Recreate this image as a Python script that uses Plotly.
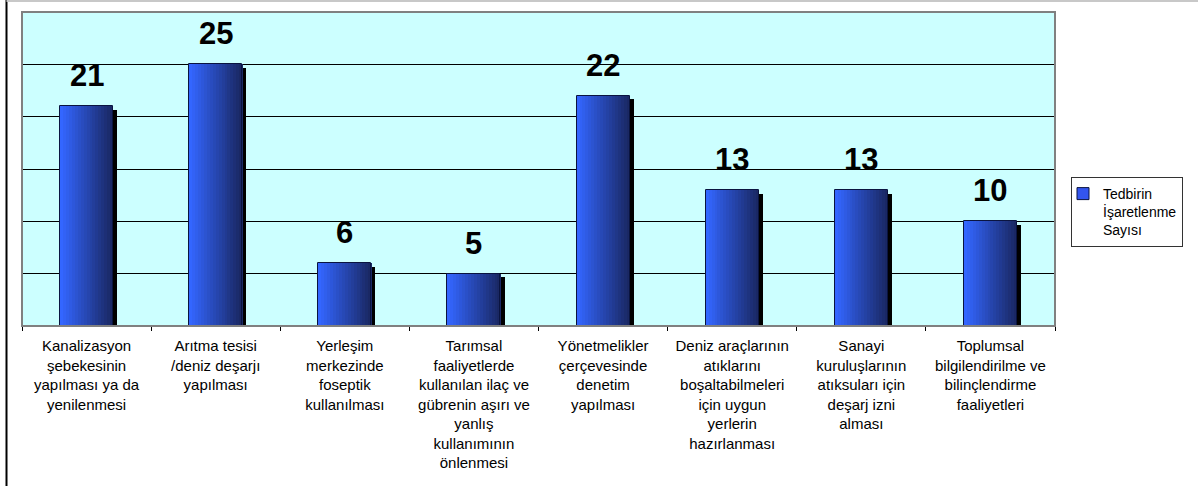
import plotly.graph_objects as go

# Data
categories = [
    "Kanalizasyon<br>şebekesinin<br>yapılması ya da<br>yenilenmesi",
    "Arıtma tesisi<br>/deniz deşarjı<br>yapılması",
    "Yerleşim<br>merkezinde<br>foseptik<br>kullanılması",
    "Tarımsal<br>faaliyetlerde<br>kullanılan ilaç ve<br>gübrenin aşırı ve<br>yanlış<br>kullanımının<br>önlenmesi",
    "Yönetmelikler<br>çerçevesinde<br>denetim<br>yapılması",
    "Deniz araçlarının<br>atıklarını<br>boşaltabilmeleri<br>için uygun<br>yerlerin<br>hazırlanması",
    "Sanayi<br>kuruluşlarının<br>atıksuları için<br>deşarj izni<br>alması",
    "Toplumsal<br>bilgilendirilme ve<br>bilinçlendirme<br>faaliyetleri",
]
values = [21, 25, 6, 5, 22, 13, 13, 10]
series_name = "Tedbirin<br>İşaretlenme<br>Sayısı"

# Layout (pixels)
W, H = 1198, 486
ML, MR, MT, MB = 22, 143, 12, 160
PW, PH = W - ML - MR, H - MT - MB

BAR_W = 0.41
N_STRIPS = 18
LEFT_RGB = (51, 102, 255)
RIGHT_RGB = (26, 40, 100)
FONT = "Liberation Sans, Arial"

fig = go.Figure()

# drop shadow
fig.add_trace(go.Bar(
    x=categories, y=[v - 0.35 for v in values],
    width=BAR_W, offset=-BAR_W / 2 + 0.032,
    marker=dict(color="black", line=dict(width=0)),
    showlegend=False, hoverinfo="skip",
))

# horizontal gradient made of thin strips
sw = BAR_W / N_STRIPS
for i in range(N_STRIPS):
    t = i / (N_STRIPS - 1)
    c = tuple(round(a + (b - a) * t) for a, b in zip(LEFT_RGB, RIGHT_RGB))
    fig.add_trace(go.Bar(
        x=categories, y=values,
        width=sw * 1.15, offset=-BAR_W / 2 + i * sw,
        marker=dict(color=f"rgb{c}", line=dict(width=0)),
        showlegend=False, hoverinfo="skip",
    ))

# outline
fig.add_trace(go.Bar(
    x=categories, y=values,
    width=BAR_W, offset=-BAR_W / 2,
    name=series_name,
    marker=dict(color="rgba(0,0,0,0)", line=dict(color="#0a1440", width=1)),
    showlegend=False,
))
# legend entry
fig.add_trace(go.Bar(
    x=[None], y=[None], name=series_name,
    marker=dict(color="#3355ee", line=dict(color="#0a1440", width=1)),
))

for c, v in zip(categories, values):
    fig.add_annotation(
        x=c, y=v, text=f"<b>{v}</b>", showarrow=False,
        yanchor="bottom", yshift=11,
        font=dict(family=FONT, size=31, color="black"),
    )

# plot area border (grey) and outer frame
fig.add_shape(type="rect", xref="paper", yref="paper", x0=0, x1=1, y0=0, y1=1,
              line=dict(color="#808080", width=2), layer="above")
fig.add_shape(type="line", xref="paper", yref="paper",
              x0=(6.5 - ML) / PW, x1=(6.5 - ML) / PW, y0=-MB / PH, y1=1 + MT / PH,
              line=dict(color="black", width=2))
fig.add_shape(type="line", xref="paper", yref="paper",
              x0=(6.5 - ML) / PW, x1=(W - ML) / PW, y0=1 + (MT - 1) / PH, y1=1 + (MT - 1) / PH,
              line=dict(color="#c8c8c8", width=2))

fig.update_layout(
    width=W, height=H,
    margin=dict(l=ML, r=MR, t=MT, b=MB, autoexpand=False),
    paper_bgcolor="white",
    plot_bgcolor="#ccffff",
    barmode="overlay",
    bargap=0,
    font=dict(family=FONT, color="black"),
    legend=dict(
        xref="container", yref="container",
        x=1071 / W, y=1 - 177 / H, xanchor="left", yanchor="top",
        bordercolor="#333333", borderwidth=1, bgcolor="white",
        font=dict(size=14), valign="top", itemwidth=30, indentation=-9,
    ),
    showlegend=True,
)
fig.update_xaxes(
    tickson="boundaries", ticks="outside", ticklen=4, tickcolor="black",
    tickfont=dict(size=15, family=FONT), ticklabelstandoff=6,
    showline=True, linecolor="black", linewidth=1, showgrid=False,
    tickangle=0, fixedrange=True,
)
fig.update_yaxes(
    range=[0, 30], dtick=5, showticklabels=False, ticks="",
    showgrid=True, gridcolor="black", gridwidth=1,
    zeroline=False, showline=False, fixedrange=True,
)

# page body has a default 8px margin; remove it so the figure sits at 0,0
fig.write_html("out.html", config={"displayModeBar": False},
               post_script="document.body.style.margin='0';")
